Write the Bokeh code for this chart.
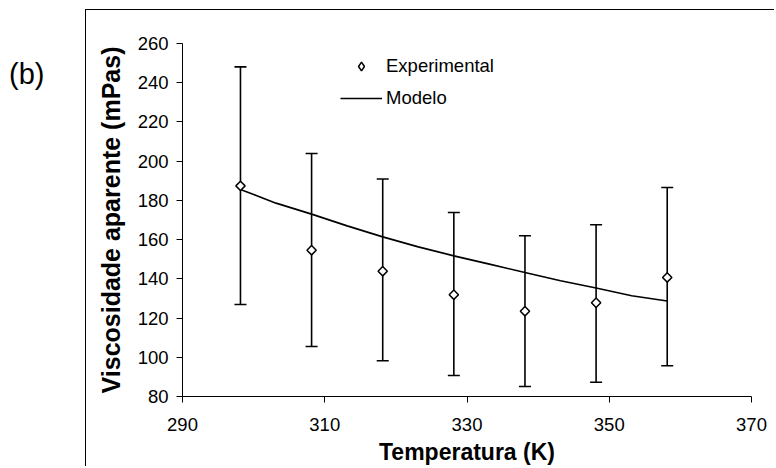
import math
from bokeh.plotting import figure
from bokeh.layouts import row, column
from bokeh.models import (ColumnDataSource, Whisker, TeeHead, FixedTicker,
                          Legend, LegendItem, Div, Spacer)
from bokeh.embed import file_html
from bokeh.resources import INLINE

# ---- data ----
temp_exp = [298.15, 308.15, 318.15, 328.15, 338.15, 348.15, 358.15]
visc_exp = [187.4, 154.6, 143.9, 131.9, 123.5, 127.8, 140.7]
visc_upper = [248.1, 203.9, 190.9, 173.8, 162.0, 167.6, 186.6]
visc_lower = [126.9, 105.5, 98.2, 90.7, 85.1, 87.3, 95.7]

temp_model = [298.15, 303.15, 308.15, 313.15, 318.15, 323.15, 328.15,
              333.15, 338.15, 343.15, 348.15, 353.15, 358.15]
visc_model = [185.6, 178.6, 173.0, 167.0, 161.4, 156.3, 151.7,
              147.5, 143.2, 139.0, 135.3, 131.4, 128.7]

x_ticks = [290, 310, 330, 350, 370]
y_ticks = [80, 100, 120, 140, 160, 180, 200, 220, 240, 260]

FONT = "Liberation Sans"

p = figure(width=689, height=457, output_backend="svg", toolbar_location=None,
           x_range=(290, 370), y_range=(80, 260),
           min_border_left=96, min_border_right=24,
           min_border_top=33, min_border_bottom=71)
p.styles = {"border-left": "1px solid black", "border-top": "1px solid black"}
p.margin = (0, 0, 0, 0)
p.outline_line_color = None
p.grid.visible = False
p.background_fill_color = "white"
p.border_fill_color = "white"

for ax in (p.xaxis[0], p.yaxis[0]):
    ax.axis_line_color = "black"
    ax.axis_line_width = 1
    ax.major_tick_line_color = "black"
    ax.major_tick_in = 0
    ax.major_tick_out = 6
    ax.minor_tick_line_color = None
    ax.major_label_text_font = FONT
    ax.major_label_text_font_size = "18.5px"
    ax.major_label_text_color = "black"
    ax.axis_label_text_font = FONT
    ax.axis_label_text_font_style = "bold"
    ax.axis_label_text_color = "black"

p.xaxis.ticker = FixedTicker(ticks=x_ticks)
p.yaxis.ticker = FixedTicker(ticks=y_ticks)
p.xaxis.axis_label = "Temperatura (K)"
p.yaxis.axis_label = "Viscosidade aparente (mPas)"
p.xaxis.axis_label_text_font_size = "23px"
p.yaxis.axis_label_text_font_size = "25px"
p.xaxis.major_label_standoff = 15
p.xaxis.axis_label_standoff = 5
p.yaxis.major_label_standoff = 8
p.yaxis.axis_label_standoff = 10

src = ColumnDataSource(dict(x=temp_exp, y=visc_exp, up=visc_upper, lo=visc_lower))
msrc = ColumnDataSource(dict(x=temp_model, y=visc_model))

line_r = p.line("x", "y", source=msrc, line_color="black", line_width=1.6)

wh = Whisker(source=src, base="x", upper="up", lower="lo",
             line_color="black", line_width=1.6,
             upper_head=TeeHead(size=12, line_color="black", line_width=1.6),
             lower_head=TeeHead(size=12, line_color="black", line_width=1.6))
p.add_layout(wh)

pts = p.scatter("x", "y", source=src, marker="square", angle=math.pi / 4,
                size=6.6, fill_color="white", line_color="black", line_width=1.5)

# legend-only diamond sample (not drawn in the plot area: NaN position)
leg_pts = p.scatter(x=[float("nan")], y=[float("nan")], marker="diamond",
                    fill_color="white", line_color="black", line_width=1.5)

legend = Legend(items=[LegendItem(label="Experimental", renderers=[leg_pts]),
                       LegendItem(label="Modelo", renderers=[line_r])],
                location=(158, 287), orientation="vertical",
                label_text_font=FONT, label_text_font_size="18.5px",
                label_text_color="black",
                glyph_width=42, glyph_height=22, label_height=22,
                label_standoff=4, spacing=10, padding=0, margin=0,
                border_line_color=None, background_fill_alpha=0)
p.add_layout(legend)

lab = Div(text=("<div style=\"padding:58px 0 0 9px; font-family:'Liberation Sans';"
                " font-size:29px; line-height:normal; color:black;\">(b)</div>"),
          width=85, height=467, margin=(0, 0, 0, 0))

spacer = Spacer(width=689, height=9, margin=(0, 0, 0, 0))
layout = row(lab, column(spacer, p, spacing=0), spacing=0)

open("out.html", "w").write(file_html(layout, INLINE))
